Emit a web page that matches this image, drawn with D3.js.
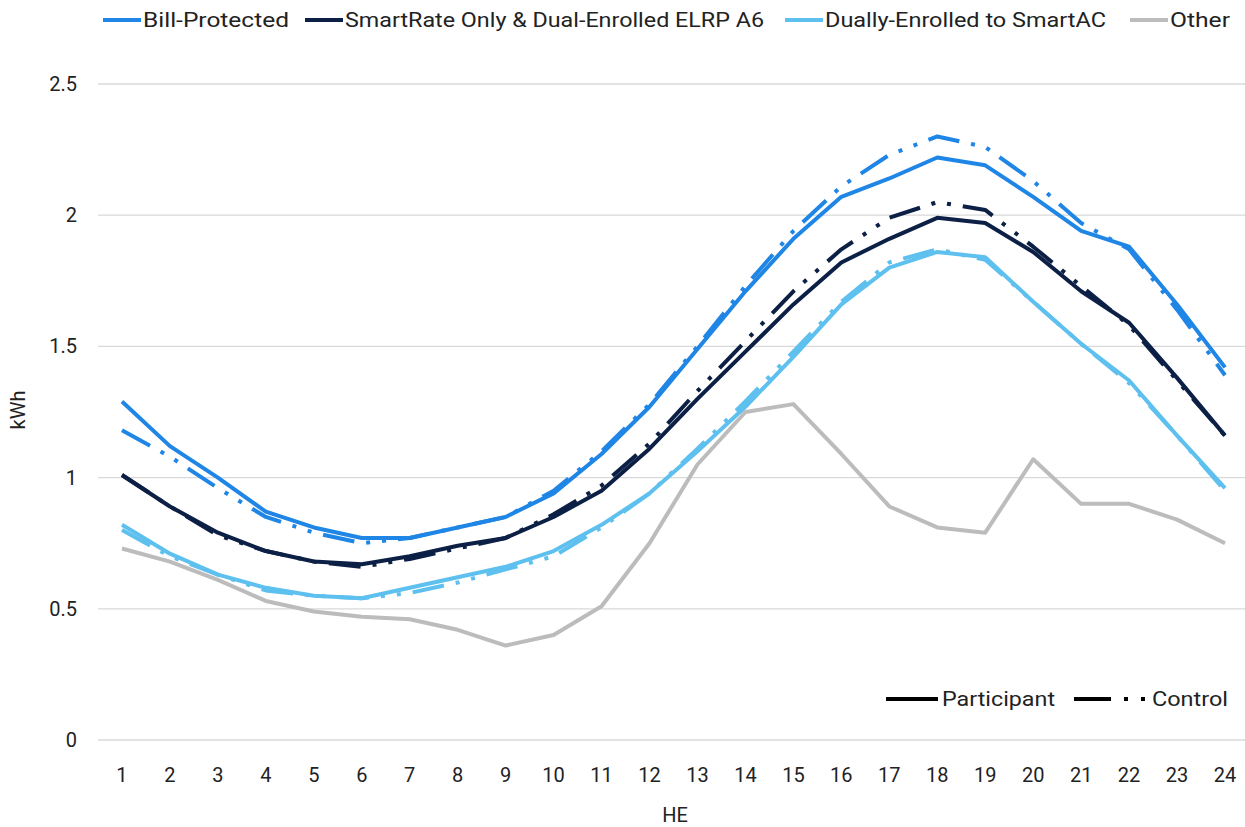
<!DOCTYPE html>
<html><head><meta charset="utf-8">
<script src="https://cdn.jsdelivr.net/npm/d3@7"></script>
<style>body{margin:0;background:#fff}svg{display:block}text{font-family:Roboto,"Noto Sans",sans-serif;fill:#222}</style>
</head><body><svg id="c" width="1245" height="827"></svg>
<script>
const hours = d3.range(1,25).map(String);
const yTicks = [0,0.5,1,1.5,2,2.5];
const yTickLabels = ["0","0.5","1","1.5","2","2.5"];
const seriesNames = ["Bill-Protected","SmartRate Only & Dual-Enrolled ELRP A6","Dually-Enrolled to SmartAC","Other"];
const seriesColors = ["#1f86e6","#0c1f45","#5ec0ee","#bcbcbc"];
const billPart = [1.29,1.12,1.00,0.87,0.81,0.77,0.77,0.81,0.85,0.94,1.09,1.27,1.49,1.71,1.91,2.07,2.14,2.22,2.19,2.07,1.94,1.88,1.66,1.42];
const billCtrl = [1.18,1.08,0.96,0.85,0.79,0.75,0.77,0.81,0.85,0.95,1.10,1.28,1.50,1.73,1.94,2.11,2.23,2.30,2.26,2.13,1.97,1.87,1.64,1.39];
const srPart = [1.01,0.89,0.79,0.72,0.68,0.67,0.70,0.74,0.77,0.85,0.95,1.11,1.30,1.48,1.66,1.82,1.91,1.99,1.97,1.86,1.71,1.59,1.38,1.16];
const srCtrl = [1.01,0.89,0.78,0.72,0.68,0.66,0.69,0.73,0.77,0.86,0.97,1.13,1.33,1.52,1.71,1.87,1.99,2.05,2.02,1.88,1.73,1.58,1.37,1.16];
const acPart = [0.82,0.71,0.63,0.58,0.55,0.54,0.58,0.62,0.66,0.72,0.82,0.94,1.10,1.27,1.46,1.66,1.80,1.86,1.84,1.67,1.51,1.37,1.16,0.96];
const acCtrl = [0.80,0.70,0.63,0.57,0.55,0.54,0.56,0.60,0.65,0.70,0.81,0.94,1.11,1.29,1.48,1.67,1.82,1.87,1.83,1.67,1.51,1.36,1.16,0.95];
const otherPart = [0.73,0.68,0.61,0.53,0.49,0.47,0.46,0.42,0.36,0.40,0.51,0.75,1.05,1.25,1.28,1.09,0.89,0.81,0.79,1.07,0.90,0.90,0.84,0.75];

const svg = d3.select("#c");
const x = d3.scalePoint().domain(hours).range([98,1249]).padding(0.5);
const y = d3.scaleLinear().domain([0,2.5]).range([740,84]);
const dash = "32,12,4,12,4,12";

svg.append("g").selectAll("line").data(yTicks).join("line")
  .attr("x1",98).attr("x2",1245).attr("y1",d=>y(d)).attr("y2",d=>y(d))
  .attr("stroke","#d9d9d9").attr("stroke-width",1.3);

svg.append("g").selectAll("text").data(yTicks).join("text")
  .attr("x",77).attr("y",d=>y(d)).attr("dy","0.35em").attr("text-anchor","end")
  .attr("font-size",20).text((d,i)=>yTickLabels[i]);
svg.append("g").selectAll("text").data(hours).join("text")
  .attr("x",d=>x(d)).attr("y",775).attr("dy","0.35em").attr("text-anchor","middle")
  .attr("font-size",20).text(d=>d);
svg.append("text").attr("x",675).attr("y",815).attr("dy","0.35em").attr("text-anchor","middle").attr("font-size",20).text("HE");
svg.append("text").attr("transform","translate(18,410) rotate(-90)").attr("dy","0.35em").attr("text-anchor","middle").attr("font-size",20).text("kWh");

const line = d3.line().x((d,i)=>x(hours[i])).y(d=>y(d));
const lines = [
  {v:otherPart,c:3,d:null},
  {v:acCtrl,c:2,d:dash},{v:acPart,c:2,d:null},
  {v:srCtrl,c:1,d:dash},{v:srPart,c:1,d:null},
  {v:billCtrl,c:0,d:dash},{v:billPart,c:0,d:null}
];
svg.append("g").selectAll("path").data(lines).join("path")
  .attr("d",d=>line(d.v)).attr("fill","none")
  .attr("stroke",d=>seriesColors[d.c]).attr("stroke-width",4)
  .attr("stroke-linejoin","round")
  .attr("stroke-dasharray",d=>d.d);

const legX = [103,305,785,1130];
const legW = [146,419,281,60];
const lg = svg.append("g").selectAll("g").data(seriesNames).join("g")
  .attr("transform",(d,i)=>`translate(${legX[i]},20)`);
lg.append("line").attr("x1",0).attr("x2",38).attr("stroke",(d,i)=>seriesColors[i]).attr("stroke-width",4);
lg.append("text").attr("x",40).attr("dy","0.35em").attr("font-size",21)
  .attr("textLength",(d,i)=>legW[i]).attr("lengthAdjust","spacingAndGlyphs").text(d=>d);

const bl = svg.append("g").attr("transform","translate(886,699)");
bl.append("line").attr("x1",0).attr("x2",52).attr("stroke","#000").attr("stroke-width",4);
bl.append("text").attr("x",56).attr("dy","0.35em").attr("font-size",21).attr("textLength",113).attr("lengthAdjust","spacingAndGlyphs").text("Participant");
bl.append("line").attr("x1",188).attr("x2",264).attr("stroke","#000").attr("stroke-width",4).attr("stroke-dasharray","37,13,4,13,4,13");
bl.append("text").attr("x",266).attr("dy","0.35em").attr("font-size",21).attr("textLength",76).attr("lengthAdjust","spacingAndGlyphs").text("Control");
</script></body></html>
